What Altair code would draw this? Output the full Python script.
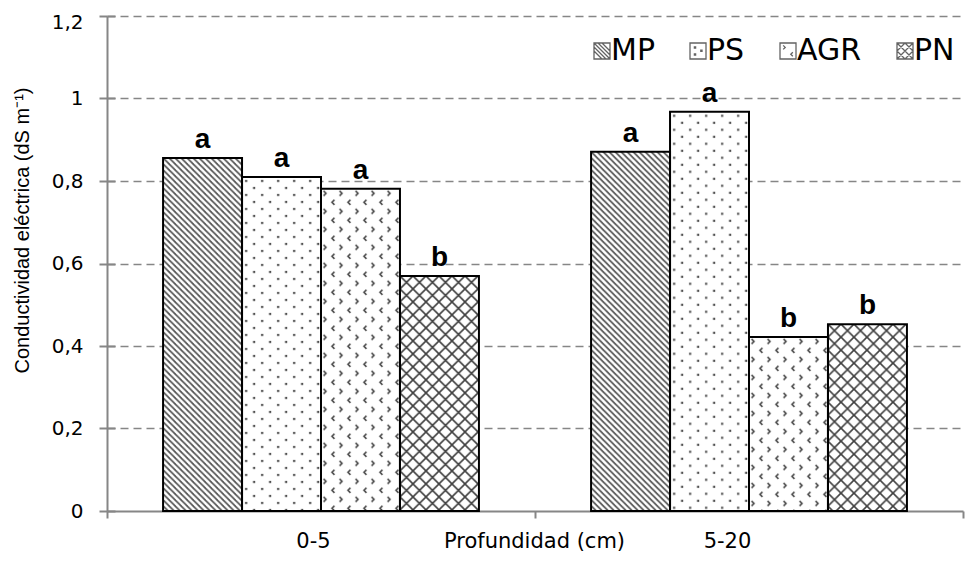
import base64
import altair as alt
import pandas as pd

# ---- data ----
profundidad = ["0-5", "5-20"]
series = ["MP", "PS", "AGR", "PN"]
valores_0_5 = [0.856, 0.810, 0.781, 0.570]
valores_5_20 = [0.871, 0.968, 0.422, 0.453]
letras_0_5 = ["a", "a", "a", "b"]
letras_5_20 = ["a", "a", "b", "b"]
y_ticks = [0, 0.2, 0.4, 0.6, 0.8, 1.0, 1.2]

rows = []
for prof, vals, lets in [("0-5", valores_0_5, letras_0_5), ("5-20", valores_5_20, letras_5_20)]:
    for s, v, l in zip(series, vals, lets):
        rows.append({"prof": prof, "serie": s, "valor": v, "letra": l})
df = pd.DataFrame(rows)

FONT = "Liberation Sans, Arial, sans-serif"
WIDE = "DejaVu Sans, Verdana, sans-serif"
GRAY = "#868686"


# ---- fill patterns (styles) ----
def tile_url(w, h, body):
    svg = ('<svg xmlns="http://www.w3.org/2000/svg" width="100%" height="100%">'
           f'<defs><pattern id="p" patternUnits="userSpaceOnUse" width="{w}" height="{h}">{body}</pattern></defs>'
           '<rect width="100%" height="100%" fill="#ffffff"/>'
           '<rect width="100%" height="100%" fill="url(#p)"/></svg>')
    return "data:image/svg+xml;base64," + base64.b64encode(svg.encode()).decode()


patterns = {
    "MP": tile_url(6, 6, '<path d="M-1,-1L7,7M-1,5L1,7M5,-1L7,1" stroke="#575757" stroke-width="1.7"/>'),
    "PS": tile_url(16, 14, '<rect x="3" y="3" width="2.2" height="2.2" fill="#4f4f4f"/>'
                           '<rect x="11" y="10" width="2.2" height="2.2" fill="#4f4f4f"/>'),
    "AGR": tile_url(16, 18, '<path d="M2.5,2L5,4.5L2.5,7M13.5,11L11,13.5L13.5,16" stroke="#3c3c3c" '
                            'stroke-width="1.5" fill="none"/>'),
    "PN": tile_url(13, 13, '<path d="M-1,-1L14,14M14,-1L-1,14" stroke="#404040" stroke-width="1.6"/>'),
}

legend_paths = [
    "M-1,-1H1V1H-1Z M-1,-1L1,1 M-0.5,-1L1,0.5 M0,-1L1,0 M-1,-0.5L0.5,1 M-1,0L0,1",
    "M-1,-1H1V1H-1Z M-0.45,-0.5h0.15v0.15h-0.15z M0.35,-0.1h0.15v0.15h-0.15z M-0.45,0.35h0.15v0.15h-0.15z",
    "M-1,-1H1V1H-1Z M-0.6,-0.7L-0.35,-0.45L-0.6,-0.2 M0.6,0.15L0.35,0.4L0.6,0.65",
    "M-1,-1H1V1H-1Z M-1,-1L1,1 M0,-1L1,0 M-1,0L0,1 M1,-1L-1,1 M0,1L1,0 M-1,0L0,-1",
]

yscale = alt.Scale(domain=[0, 1.2], nice=False)

x_axis = alt.Axis(
    title="Profundidad (cm)", labelAngle=0, tickBand="extent",
    domainColor=GRAY, domainWidth=2, tickColor=GRAY, tickWidth=2, tickSize=7,
    labelFontSize=21, labelFont=WIDE, labelColor="black", labelPadding=29,
    labelBaseline="alphabetic",
    labelOffset={"condition": {"test": "datum.value === '0-5'", "value": -8}, "value": -22},
    titleFontSize=21, titleFont=WIDE, titleFontWeight="normal", titleColor="black",
    titleX=427, titleY=36, titleBaseline="alphabetic", titleAlign="center",
)

y_axis = alt.Axis(
    values=y_ticks, labelExpr="replace(format(datum.value, '.1~f'), '.', ',')",
    title="Conductividad eléctrica (dS m⁻¹)", grid=True, gridDash=[8, 5], gridColor=GRAY,
    gridWidth=1.5, gridOpacity={"condition": {"test": "datum.value === 0", "value": 0}, "value": 1},
    domainColor=GRAY, domainWidth=2, tickColor=GRAY, tickWidth=2, tickSize=8,
    labelPadding=16, labelFontSize=20, labelFont=WIDE, labelColor="black",
    labelOffset={"condition": {"test": "datum.value >= 1.19", "value": 6}, "value": 0},
    titleFontSize=20, titleFont=FONT, titleFontWeight="normal", titleColor="black",
    titleX=-85, titleY=214, titleAngle=-90, titleAlign="center", titleBaseline="middle",
)

# short inner half of the y ticks (the reference ticks cross the axis line)
y_axis_inner = alt.Axis(
    values=y_ticks, orient="left", offset=-8, labels=False, domain=False, grid=False,
    title=None, tickColor=GRAY, tickWidth=2, tickSize=8,
)

base = alt.Chart(df).encode(
    x=alt.X("prof:N", sort=profundidad, scale=alt.Scale(paddingInner=0, paddingOuter=0), axis=x_axis),
    xOffset=alt.XOffset("serie:N", sort=series, scale=alt.Scale(paddingInner=0, paddingOuter=0.71)),
    y=alt.Y("valor:Q", scale=yscale, axis=y_axis),
)

# points hidden behind the patterned bars; they only provide the legend
legend_pts = base.mark_point(
    filled=False, size=16, color="#222", strokeWidth=1.3, yOffset=40
).encode(
    shape=alt.Shape(
        "serie:N", sort=series, scale=alt.Scale(domain=series, range=legend_paths),
        legend=alt.Legend(
            title=None, orient="none", legendX=480, legendY=20, direction="horizontal",
            symbolSize=256, symbolStrokeWidth=1.3, symbolStrokeColor="#222",
            labelFontSize=30, labelFont=WIDE, labelColor="black", labelOffset={"expr": "-6"},
            columnPadding=28, padding=0,
        ),
    ),
)

image_layers = []
for s in series:
    image_layers.append(
        base.transform_filter(alt.datum.serie == s).mark_image(aspect=False).encode(
            y2=alt.datum(0),
            url=alt.value(patterns[s]),
        )
    )

outline = base.mark_bar(fillOpacity=0, stroke="black", strokeWidth=2)

letters = base.mark_text(
    dy=-10, baseline="alphabetic", fontSize=28, fontWeight="bold", font=FONT, color="black"
).encode(text="letra:N")

main = alt.layer(legend_pts, *image_layers, outline, letters)

inner_ticks = base.mark_point(opacity=0).encode(
    y=alt.Y("valor:Q", scale=yscale, axis=y_axis_inner),
)

chart = alt.layer(main, inner_ticks).resolve_axis(y="independent").properties(
    width=856, height=495,
    autosize=alt.AutoSizeParams(type="none"),
    padding={"left": 99, "top": 8, "right": 6, "bottom": 42},
).configure(font=FONT).configure_view(stroke=None)

chart.save("out.html", embed_options={"renderer": "svg", "actions": False})
